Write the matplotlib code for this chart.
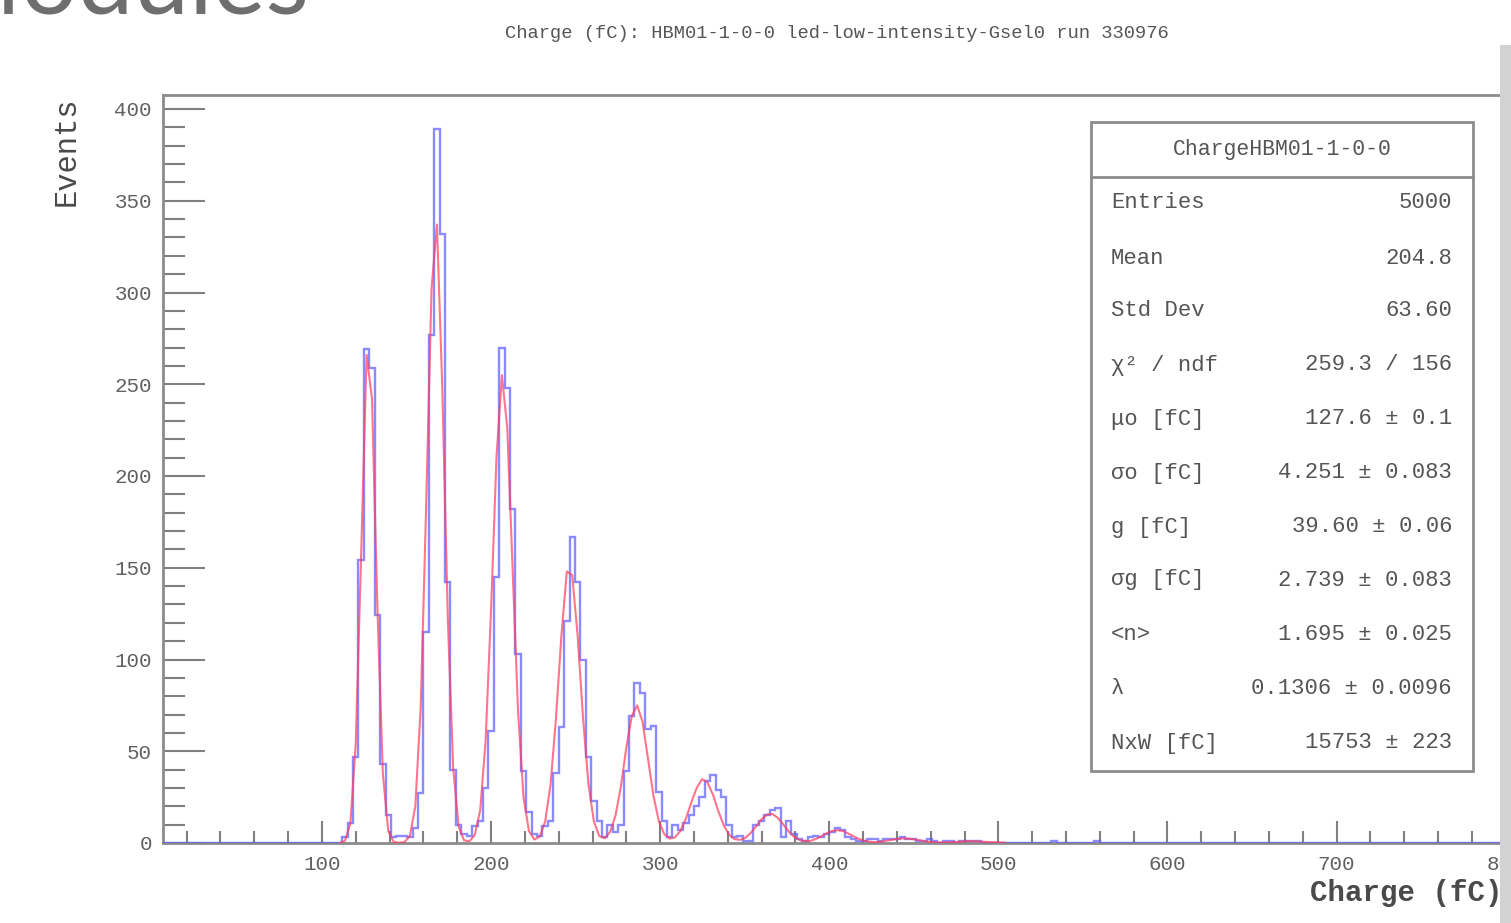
"""ROOT 스타일 전하 히스토그램 재현 (HBM01-1-0-0 LED 런)"""

import matplotlib
matplotlib.use("Agg")
import matplotlib.pyplot as plt
from matplotlib.patches import Rectangle
from matplotlib.ticker import MultipleLocator
import numpy as np

MONO = ["Liberation Mono", "DejaVu Sans Mono"]
plt.rcParams["font.family"] = MONO

# ── 데이터 ──
BIN_WIDTH = 3.2          # fC
N_BINS = 250             # 0 ~ 800 fC
FIRST_BIN = 34           # 108.8 fC 부터 값이 있음

# 히스토그램 (108.8 ~ 489.6 fC 구간)
hist_counts = [
    0, 3, 11, 47, 154, 269, 259, 124, 43, 15,
    3, 4, 4, 3, 8, 27, 115, 277, 389, 332,
    142, 40, 10, 5, 4, 9, 12, 30, 61, 145,
    270, 248, 182, 103, 39, 17, 5, 4, 9, 12,
    38, 63, 121, 167, 142, 100, 47, 23, 12, 3,
    10, 6, 10, 39, 69, 87, 82, 62, 64, 28,
    12, 3, 10, 7, 11, 15, 20, 25, 34, 37,
    29, 25, 10, 3, 4, 1, 1, 10, 12, 15,
    18, 19, 3, 12, 5, 2, 1, 3, 4, 3,
    5, 6, 8, 7, 3, 2, 1, 1, 2, 2,
    1, 2, 2, 2, 3, 2, 2, 1, 1, 2,
    1, 0, 1, 1, 0, 1, 1, 1, 1, 0,
]
# 멀리 떨어진 단일 이벤트 (bin index, count)
stray_bins = [166, 174]
stray_counts = [1, 1]

# 피팅 곡선 (110.4 ~ 504.0 fC, 3.2 fC 간격)
fit_start, fit_step = 110.4, 3.2
fit_values = [
    0, 1.2, 10.7, 54.5, 158, 266, 242, 128, 38, 6.5,
    0.6, 0.1, 0.5, 3.8, 20, 74, 183, 302, 337, 247,
    123, 41, 9.1, 1.5, 0.9, 4.4, 18, 56, 127, 210,
    255, 226, 148, 71, 25, 6.5, 1.9, 3.5, 11.7, 32,
    68, 113, 148, 146, 113, 68, 32, 11.8, 3.8, 2.6,
    6, 15, 31, 52, 69, 75, 66, 46, 26, 12,
    4.9, 2.4, 3.1, 6.6, 13.2, 22, 30, 34.8, 33, 26.4,
    17.4, 9.6, 4.5, 2.1, 1.7, 2.8, 5.5, 9.1, 12.9, 15.5,
    15.8, 13.7, 10.1, 6.3, 3.4, 1.7, 1.1, 1.1, 2.2, 3.6,
    5.2, 6.5, 7.0, 6.6, 5.2, 3.6, 2.2, 1.2, 0.7, 0.4,
    0.7, 1.2, 1.7, 2.2, 2.5, 2.4, 2.1, 1.6, 1.1, 0.6,
    0.4, 0.3, 0.3, 0.4, 0.6, 0.8, 1.0, 1.0, 0.9, 0.7,
    0.5, 0.4, 0.3, 0.2,
]

title = "Charge (fC): HBM01-1-0-0 led-low-intensity-Gsel0 run 330976"
stats_title = "ChargeHBM01-1-0-0"
stats_names = ["Entries", "Mean", "Std Dev", "χ² / ndf", "μo [fC]", "σo [fC]",
               "g [fC]", "σg [fC]", "<n>", "λ", "NxW [fC]"]
stats_values = ["5000", "204.8", "63.60", "259.3 / 156", "127.6 ± 0.1",
                "4.251 ± 0.083", "39.60 ± 0.06", "2.739 ± 0.083",
                "1.695 ± 0.025", "0.1306 ± 0.0096", "15753 ± 223"]

counts = np.zeros(N_BINS)
counts[FIRST_BIN:FIRST_BIN + len(hist_counts)] = hist_counts
counts[stray_bins] = stray_counts
edges = np.arange(N_BINS + 1) * BIN_WIDTH
fit_x = fit_start + fit_step * np.arange(len(fit_values))

# ── 그림 ──
W, H = 1511, 923
fig = plt.figure(figsize=(W / 100, H / 100), dpi=100)


def fx(px):
    return px / W


def fy(py):
    return 1 - py / H


ax_left, ax_right, ax_top, ax_bottom = 163, 1600, 95, 843
ax = fig.add_axes([fx(ax_left), fy(ax_bottom), fx(ax_right - ax_left), (ax_bottom - ax_top) / H])

px_per_fc = 1.691
x0 = 6.0
ax.set_xlim(x0, x0 + (ax_right - ax_left) / px_per_fc)
ax.set_ylim(0, (ax_bottom - ax_top) / 1.835)

ax.stairs(counts, edges, color="#5a5aff", linewidth=1.7, alpha=0.7, zorder=3)
ax.plot(fit_x, fit_values, color="#ff3a5c", linewidth=1.5, alpha=0.7, zorder=4)

# 축 스타일
for side in ["left", "top", "bottom"]:
    ax.spines[side].set_color("#8c8c8c")
    ax.spines[side].set_linewidth(2)
ax.spines["right"].set_visible(False)

ax.xaxis.set_major_locator(MultipleLocator(100))
ax.xaxis.set_minor_locator(MultipleLocator(20))
ax.yaxis.set_major_locator(MultipleLocator(50))
ax.yaxis.set_minor_locator(MultipleLocator(10))

ax.tick_params(axis="both", which="both", direction="in", color="#808080", width=1.5,
               labelcolor="#606060", labelsize=15)
ax.tick_params(axis="y", which="major", length=30, pad=8)
ax.tick_params(axis="y", which="minor", length=16)
ax.tick_params(axis="x", which="major", length=16, pad=9)
ax.tick_params(axis="x", which="minor", length=9)

# 축 제목
fig.text(fx(1503), fy(893), "Charge (fC)", ha="right", va="center",
         fontsize=21, color="#4a4a4a", fontweight="bold")
fig.text(fx(67), fy(97), "Events", ha="center", va="top", rotation=90,
         fontsize=22, color="#4a4a4a")

# 상단 제목
fig.text(fx(837), fy(33), title, ha="center", va="center", fontsize=13.5, color="#555555")

# 잘린 페이지 헤더
fig.text(fx(310), fy(14), "Modules", ha="right", va="baseline", fontsize=72,
         color="#6e6e6e", family=["Lato", "DejaVu Sans"])

# 통계 박스
box_l, box_r, box_t, box_b = 1091, 1473, 122, 771
fig.patches.append(Rectangle((fx(box_l), fy(box_b)), fx(box_r - box_l), (box_b - box_t) / H,
                             transform=fig.transFigure, facecolor="white",
                             edgecolor="#8c8c8c", linewidth=2, zorder=5))
fig.lines.append(plt.Line2D([fx(box_l), fx(box_r)], [fy(177), fy(177)],
                            transform=fig.transFigure, color="#8c8c8c", linewidth=2, zorder=6))
fig.text(fx((box_l + box_r) / 2), fy(149), stats_title, ha="center", va="center",
         fontsize=15.5, color="#555555", zorder=7)
row_y = [203, 258, 311, 365, 419, 473, 527, 580, 635, 689, 743]
for name, val, yy in zip(stats_names, stats_values, row_y):
    fig.text(fx(1111), fy(yy), name, ha="left", va="center", fontsize=16,
             color="#555555", zorder=7)
    fig.text(fx(1452), fy(yy), val, ha="right", va="center", fontsize=16,
             color="#555555", zorder=7)

# 오른쪽 창 테두리
fig.patches.append(Rectangle((fx(1500), 0), fx(11), fy(45), transform=fig.transFigure,
                             facecolor="#d2d2d2", edgecolor="none", zorder=10))

fig.savefig("out.png", dpi=100, facecolor="white")
plt.close(fig)
